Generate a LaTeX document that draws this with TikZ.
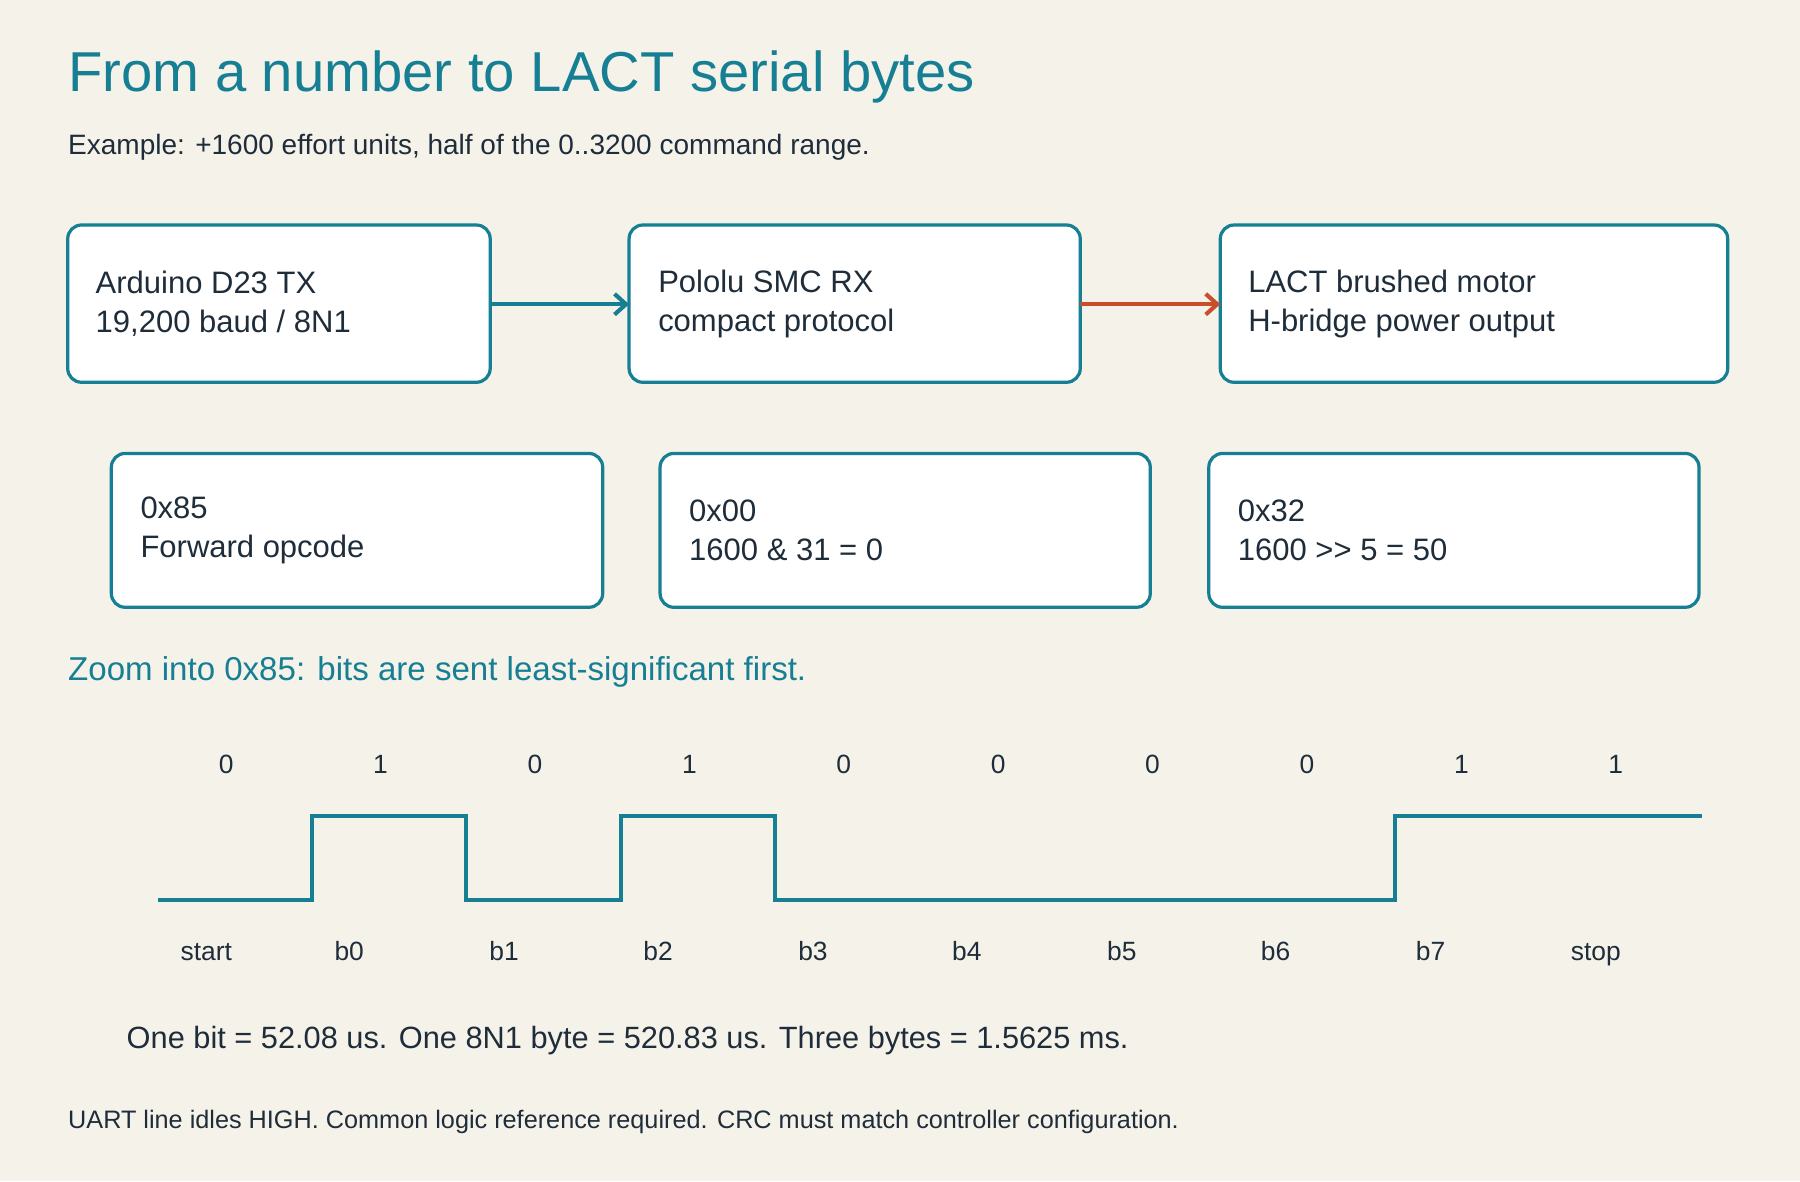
\documentclass[tikz,border=0pt]{standalone}
\usepackage{fontspec}
\setmainfont{Liberation Sans}
\usetikzlibrary{arrows.meta}
\definecolor{bg}{HTML}{F5F2EA}
\definecolor{teal}{HTML}{167F93}
\definecolor{orng}{HTML}{C94F2A}
\definecolor{ink}{HTML}{1F2D3A}
\begin{document}
\begin{tikzpicture}[x=0.5pt,y=-0.5pt,every node/.style={inner sep=0pt},
 box/.style={draw=teal,line width=1.4pt,rounded corners=6pt,fill=white},
 bt/.style={anchor=west,text=ink,font=\fontsize{13.5}{17}\selectfont,align=left},
 lab/.style={text=ink,font=\fontsize{11.5}{13}\selectfont},
 arr/.style={line width=1.8pt,-{Straight Barb[length=5pt,width=9pt,line width=1.8pt]}}]
\fill[bg] (0,0) rectangle (1568,1029);
\useasboundingbox (0,0) rectangle (1568,1029);
\node[anchor=base west,text=teal,font=\fontsize{24.5}{28}\selectfont] (title) at (59,80) {From a number to LACT serial bytes};
\node[anchor=base west,text=ink,font=\fontsize{12.2}{14}\selectfont] (sub) at (59,135) {Example: +1600 effort units, half of the 0..3200 command range.};
\draw[box] (59,196) rectangle (427,333);
\coordinate (ae) at (427,265);
\coordinate (b) at (548,265); \coordinate (be) at (941,265);
\coordinate (c) at (1063,265);
\draw[box] (548,196) rectangle (941,333);
\draw[box] (1063,196) rectangle (1505,333);
\node[bt] (ta) at (83,265) {Arduino D23 TX\\19,200 baud / 8N1};
\node[bt] (tb) at (573,265) {Pololu SMC RX\\compact protocol};
\node[bt] (tc) at (1087,265) {LACT brushed motor\\H-bridge power output};
\draw[arr,teal] (ae) -- (b);
\draw[arr,orng] (be) -- (c);
\draw[box] (97,395) rectangle (525,529);
\draw[box] (575,395) rectangle (1002,529);
\draw[box] (1053,395) rectangle (1480,529);
\node[bt] (d) at (122,462) {0x85\\Forward opcode};
\node[bt] (e) at (600,462) {0x00\\1600 \& 31 = 0};
\node[bt] (f) at (1078,462) {0x32\\1600 >{}> 5 = 50};
\node[anchor=base west,text=teal,font=\fontsize{14.4}{16}\selectfont] (zoom) at (59,593) {Zoom into 0x85: bits are sent least-significant first.};
\draw[teal,line width=1.6pt] (138,784) -- (272,784) -- (272,711) -- (406,711) -- (406,784) -- (541,784) -- (541,711) -- (675,711) -- (675,784) -- (1215,784) -- (1215,711) -- (1483,711);
\foreach \v [count=\i from 0] in {0,1,0,1,0,0,0,0,1,1}
  \node[lab] (v\i) at (197+134.5*\i,666) {\v};
\foreach \t/\x [count=\i from 0] in {start/157,b0/291,b1/426,b2/560,b3/695,b4/829,b5/964,b6/1098,b7/1233,stop/1368}
  \node[lab,anchor=base west] (l\i) at (\x,837) {\t};
\node[anchor=base west,text=ink,font=\fontsize{13.4}{15}\selectfont] (sum) at (110,913) {One bit = 52.08 us. One 8N1 byte = 520.83 us. Three bytes = 1.5625 ms.};
\node[anchor=base west,text=ink,font=\fontsize{11}{12}\selectfont] (foot) at (59,983) {UART line idles HIGH. Common logic reference required. CRC must match controller configuration.};
\end{tikzpicture}
\end{document}
